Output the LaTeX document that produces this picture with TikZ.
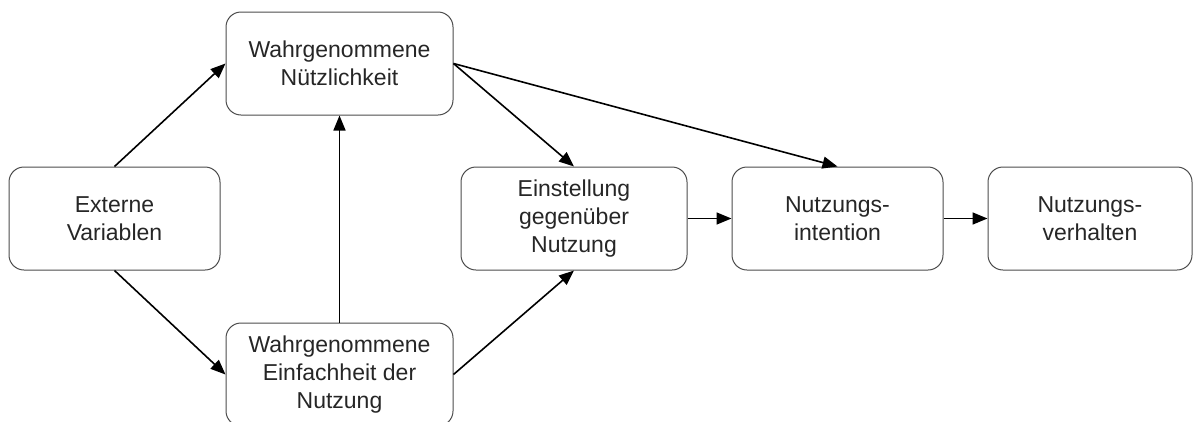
\documentclass[tikz,border=0pt]{standalone}
\usepackage{fontspec}
\setmainfont{Liberation Sans}
\usetikzlibrary{arrows.meta}
\newcommand{\boxHeight}[0]{103pt}

\begin{document}
\begin{tikzpicture}[x=1pt, y=-1pt]
  \tikzset{tam box/.style={draw=black!70, line width=1pt, rounded corners=15pt,
      align=center, minimum height=\boxHeight, inner sep=0pt, text=black!85,
      font=\fontsize{23}{28}\selectfont},
    tam arrow/.style={-{Triangle[length=15pt,width=12pt]}, line width=1.6pt}}
  \useasboundingbox (0,0) rectangle (1195,421);
  \node[tam box, minimum width=211pt] (ext) at (114.5,218.5) {Externe\\Variablen};
  \node[tam box, minimum width=227pt] (useful) at (339.5,63.5) {Wahrgenommene\\Nützlichkeit};
  \node[tam box, minimum width=227pt] (ease) at (339.5,374.5) {Wahrgenommene\\Einfachheit der\\Nutzung};
  \node[tam box, minimum width=226pt] (att) at (574,218.5) {Einstellung\\gegenüber\\Nutzung};
  \node[tam box, minimum width=211pt] (int) at (837.5,218.5) {Nutzungs-\\intention};
  \node[tam box, minimum width=204pt] (beh) at (1090,218.5) {Nutzungs-\\verhalten};
  \draw[tam arrow] (ext.north) -- (useful.west);
  \draw[tam arrow] (ext.south) -- (ease.west);
  \draw[tam arrow] (ease.north) -- (useful.south);
  \draw[tam arrow] (ease.east) -- (att.south);
  \draw[tam arrow] (useful.east) -- (att.north);
  \draw[tam arrow] (useful.east) -- (int.north);
  \draw[tam arrow] (att.east) -- (int.west);
  \draw[tam arrow] (int.east) -- (beh.west);
\end{tikzpicture}
\end{document}
